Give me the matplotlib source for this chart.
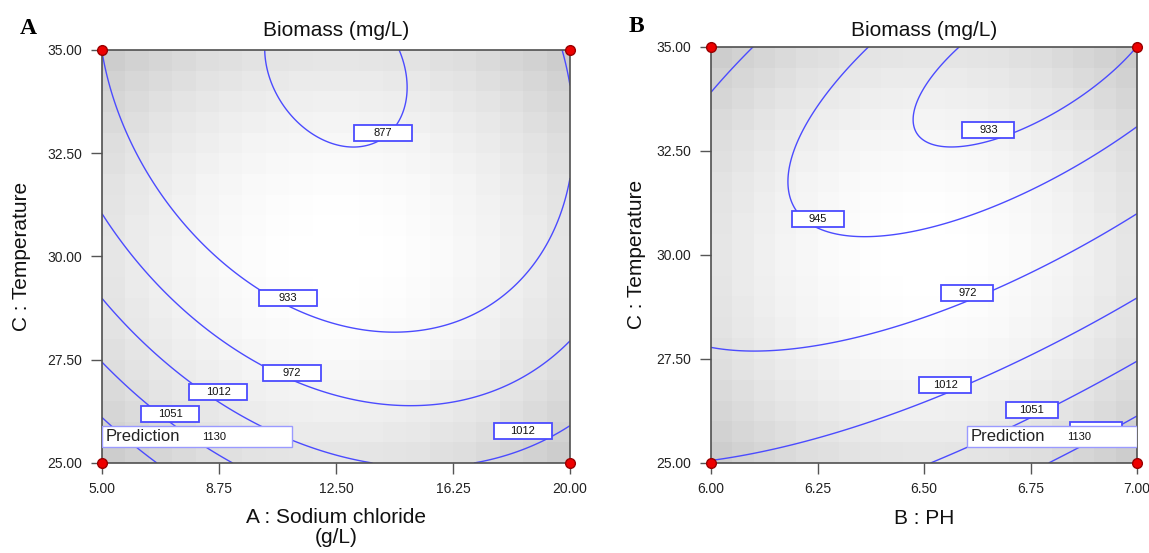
import numpy as np
import matplotlib.pyplot as plt
from matplotlib.patches import Rectangle

plt.rcParams['font.family'] = ['Liberation Sans', 'DejaVu Sans']

# quadratic model in coded units: b0, x, y, xy, x^2, y^2  (y = temperature)
coefA = [904.81, -22.48, -73.01, 24.68, 63.26, 40.00]
coefB = [951.33, 16.15, -56.23, -42.22, 22.37, 41.62]

levelsA = [877, 933, 972, 1012, 1051, 1091, 1130]
levelsB = [933, 945, 972, 1012, 1051, 1091, 1130]

rangeA = (5.0, 20.0)       # sodium chloride g/L
rangeB = (6.0, 7.0)        # pH
rangeT = (25.0, 35.0)      # temperature

ticksA = [5.00, 8.75, 12.50, 16.25, 20.00]
ticksB = [6.00, 6.25, 6.50, 6.75, 7.00]
ticksT = [25.00, 27.50, 30.00, 32.50, 35.00]

# contour label boxes: (x, temperature, text)
labelsA = [(14.0, 32.98, '877'), (10.97, 29.0, '933'), (11.09, 27.19, '972'),
           (8.73, 26.72, '1012'), (7.18, 26.19, '1051'), (18.48, 25.77, '1012')]
labelsB = [(6.651, 33.0, '933'), (6.251, 30.86, '945'), (6.602, 29.08, '972'),
           (6.55, 26.87, '1012'), (6.753, 26.27, '1051'),
           (6.903, 25.79, '')]   # 1091 box, hidden under the prediction flag

predA = (5.0, 25.0, '1130')
predB = (7.0, 25.0, '1130')

W, H = 1149, 553
fig = plt.figure(figsize=(W / 100, H / 100), dpi=100)
blue = '#4b4bff'


def surf(c, x, y):
    return c[0] + c[1] * x + c[2] * y + c[3] * x * y + c[4] * x * x + c[5] * y * y


def panel(rect, xr, coef, levels, xticks, labels, pred, pred_w, box_w, title_pad):
    ax = fig.add_axes(rect)
    # grey background grid
    n = 20
    e = np.linspace(-1, 1, n + 1)
    cc = (e[:-1] + e[1:]) / 2
    gx, gy = np.meshgrid(cc, cc)
    shade = 1 - 0.11 * (gx ** 2 + gy ** 2)
    ax.pcolormesh(np.linspace(xr[0], xr[1], n + 1), np.linspace(rangeT[0], rangeT[1], n + 1), shade,
                  cmap='gray', vmin=0, vmax=1, zorder=0)
    xs = np.linspace(-1, 1, 300)
    X, Y = np.meshgrid(xs, xs)
    Z = surf(coef, X, Y)
    ax.contour(xr[0] + (X + 1) / 2 * (xr[1] - xr[0]), 30 + 5 * Y, Z, levels=levels,
               colors=blue, linewidths=1, zorder=2)

    dx = (xr[1] - xr[0]) / rect[2] / W   # data units per pixel
    dy = (rangeT[1] - rangeT[0]) / rect[3] / H
    for x, t, s in labels:
        w, h = box_w * dx, 16 * dy
        ax.add_patch(Rectangle((x - w / 2, t - h / 2), w, h, fc='white', ec=blue, lw=1.3, zorder=4))
        if s:
            ax.text(x, t, s, fontsize=8, ha='center', va='center', color='#111111', zorder=5)

    # prediction flag
    px, pt, pv = pred
    w, h = pred_w * dx, 21 * dy
    x0 = px if px == xr[0] else px - w
    y0 = pt + 16 * dy
    ax.add_patch(Rectangle((x0, y0), w, h, fc='white', ec='#9a9aff', lw=1, zorder=6))
    ax.text(x0 + 4 * dx, y0 + h / 2, 'Prediction', fontsize=12, va='center', color='#222222', zorder=7)
    ax.text(x0 + 112 * dx, y0 + h / 2, pv, fontsize=8, ha='center', va='center', color='#111111', zorder=7)

    ax.set_xlim(xr)
    ax.set_ylim(rangeT)
    ax.set_xticks(xticks)
    ax.set_xticklabels(['%.2f' % v for v in xticks])
    ax.set_yticks(ticksT)
    ax.set_yticklabels(['%.2f' % v for v in ticksT])
    for s in ax.spines.values():
        s.set_color('#505050')
        s.set_linewidth(1.2)
    ax.tick_params(direction='out', length=8, width=1, color='#555555', labelsize=10,
                   pad=6, labelcolor='#222222')
    ax.plot([xr[0], xr[1], xr[0], xr[1]], [25, 25, 35, 35], 'o', color='#ee0000',
            mec='#990000', ms=7, clip_on=False, zorder=10)
    ax.set_title('Biomass (mg/L)', fontsize=15, pad=title_pad, color='#111111')
    return ax


axA = panel([102 / W, 1 - 463 / H, 468 / W, 413 / H], rangeA, coefA, levelsA, ticksA,
            labelsA, predA, 190, 58, 10)
axB = panel([711 / W, 1 - 463 / H, 426 / W, 416.3 / H], rangeB, coefB, levelsB, ticksB,
            labelsB, predB, 170, 52, 7.5)

axA.set_xlabel('A : Sodium chloride\n(g/L)', fontsize=15, labelpad=8, color='#111111',
               linespacing=1.1)
axB.set_xlabel('B : PH', fontsize=15, labelpad=9, color='#111111')
axA.set_ylabel('C : Temperature', fontsize=15, labelpad=12, color='#111111')
axB.set_ylabel('C : Temperature', fontsize=15, labelpad=8, color='#111111')

fig.text(28 / W, 1 - 28 / H, 'A', fontsize=17, fontweight='bold', family='Liberation Serif',
         ha='center', va='center')
fig.text(636 / W, 1 - 27 / H, 'B', fontsize=17, fontweight='bold', family='Liberation Serif',
         ha='center', va='center')

fig.savefig('out.png', dpi=100)
